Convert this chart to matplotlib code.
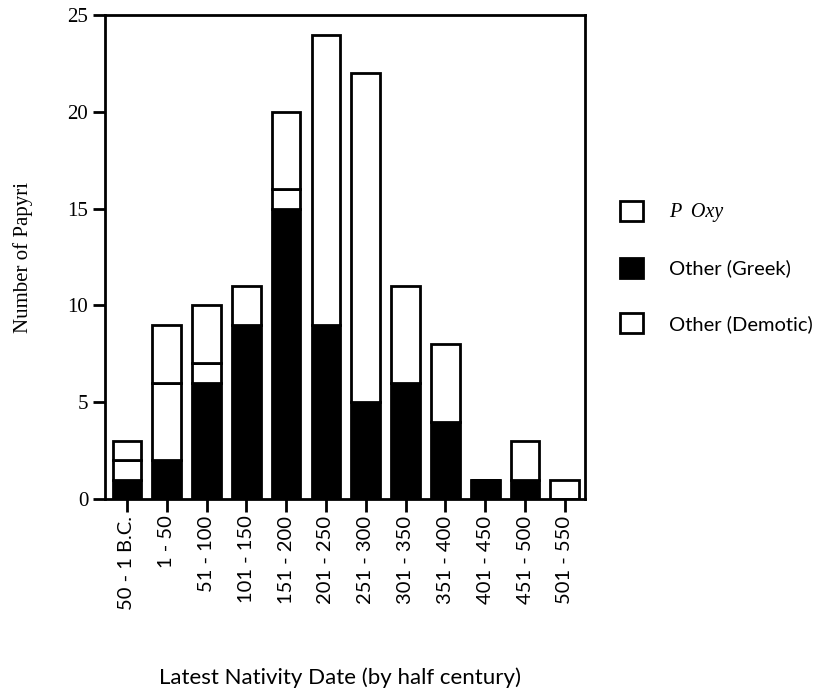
import matplotlib
matplotlib.use("Agg")
import matplotlib.pyplot as plt
from matplotlib.patches import Patch
import numpy as np

categories = ["50 - 1 B.C.", "1 - 50", "51 - 100", "101 - 150", "151 - 200",
              "201 - 250", "251 - 300", "301 - 350", "351 - 400", "401 - 450",
              "451 - 500", "501 - 550"]
greek   = [1, 2, 6, 9, 15, 9, 5, 6, 4, 1, 1, 0]
demotic = [1, 4, 1, 0, 1, 0, 0, 0, 0, 0, 0, 0]
poxy    = [1, 3, 3, 2, 4, 15, 17, 5, 4, 0, 2, 1]

fig = plt.figure(figsize=(8.3, 6.91), dpi=100)
ax = fig.add_axes([0.1265, 0.278, 0.578, 0.700])

x = np.arange(len(categories))
w = 0.72
g = np.array(greek); d = np.array(demotic); p = np.array(poxy)
ax.bar(x, g, w, color="black", edgecolor="black", linewidth=2)
ax.bar(x, d, w, bottom=g, color="white", edgecolor="black", linewidth=2)
ax.bar(x, p, w, bottom=g + d, color="white", edgecolor="black", linewidth=2)

ax.set_xlim(-0.55, 11.5)
ax.set_ylim(0, 25)
ax.set_yticks([0, 5, 10, 15, 20, 25])
for s in ax.spines.values():
    s.set_linewidth(2)

serif = "Liberation Serif"
sans = "Lato"
ax.set_xticks(x)
ax.set_xticklabels(categories, rotation=90, fontfamily=sans, fontsize=14.5)
for lab in ax.get_yticklabels():
    lab.set_fontfamily(serif)
    lab.set_fontsize(15)
ax.tick_params(axis="both", direction="out", width=2, length=9, pad=3)

ax.set_ylabel("Number of Papyri", fontfamily=serif, fontsize=15, labelpad=25)
fig.text(0.41, 0.004, "Latest Nativity Date (by half century)",
         fontfamily=sans, fontsize=16, ha="center", va="bottom")

handles = [Patch(facecolor="white", edgecolor="black", linewidth=2),
           Patch(facecolor="black", edgecolor="black", linewidth=2),
           Patch(facecolor="white", edgecolor="black", linewidth=2)]
leg = ax.legend(handles, ["P  Oxy", "Other (Greek)", "Other (Demotic)"],
                loc="center left", bbox_to_anchor=(1.035, 0.48),
                frameon=False, handlelength=1.15, handleheight=1.15,
                labelspacing=1.75, handletextpad=1.3,
                prop={"family": sans, "size": 14.5})
t0 = leg.get_texts()[0]
t0.set_fontfamily(serif)
t0.set_fontstyle("italic")

fig.savefig("out.png", dpi=100)
